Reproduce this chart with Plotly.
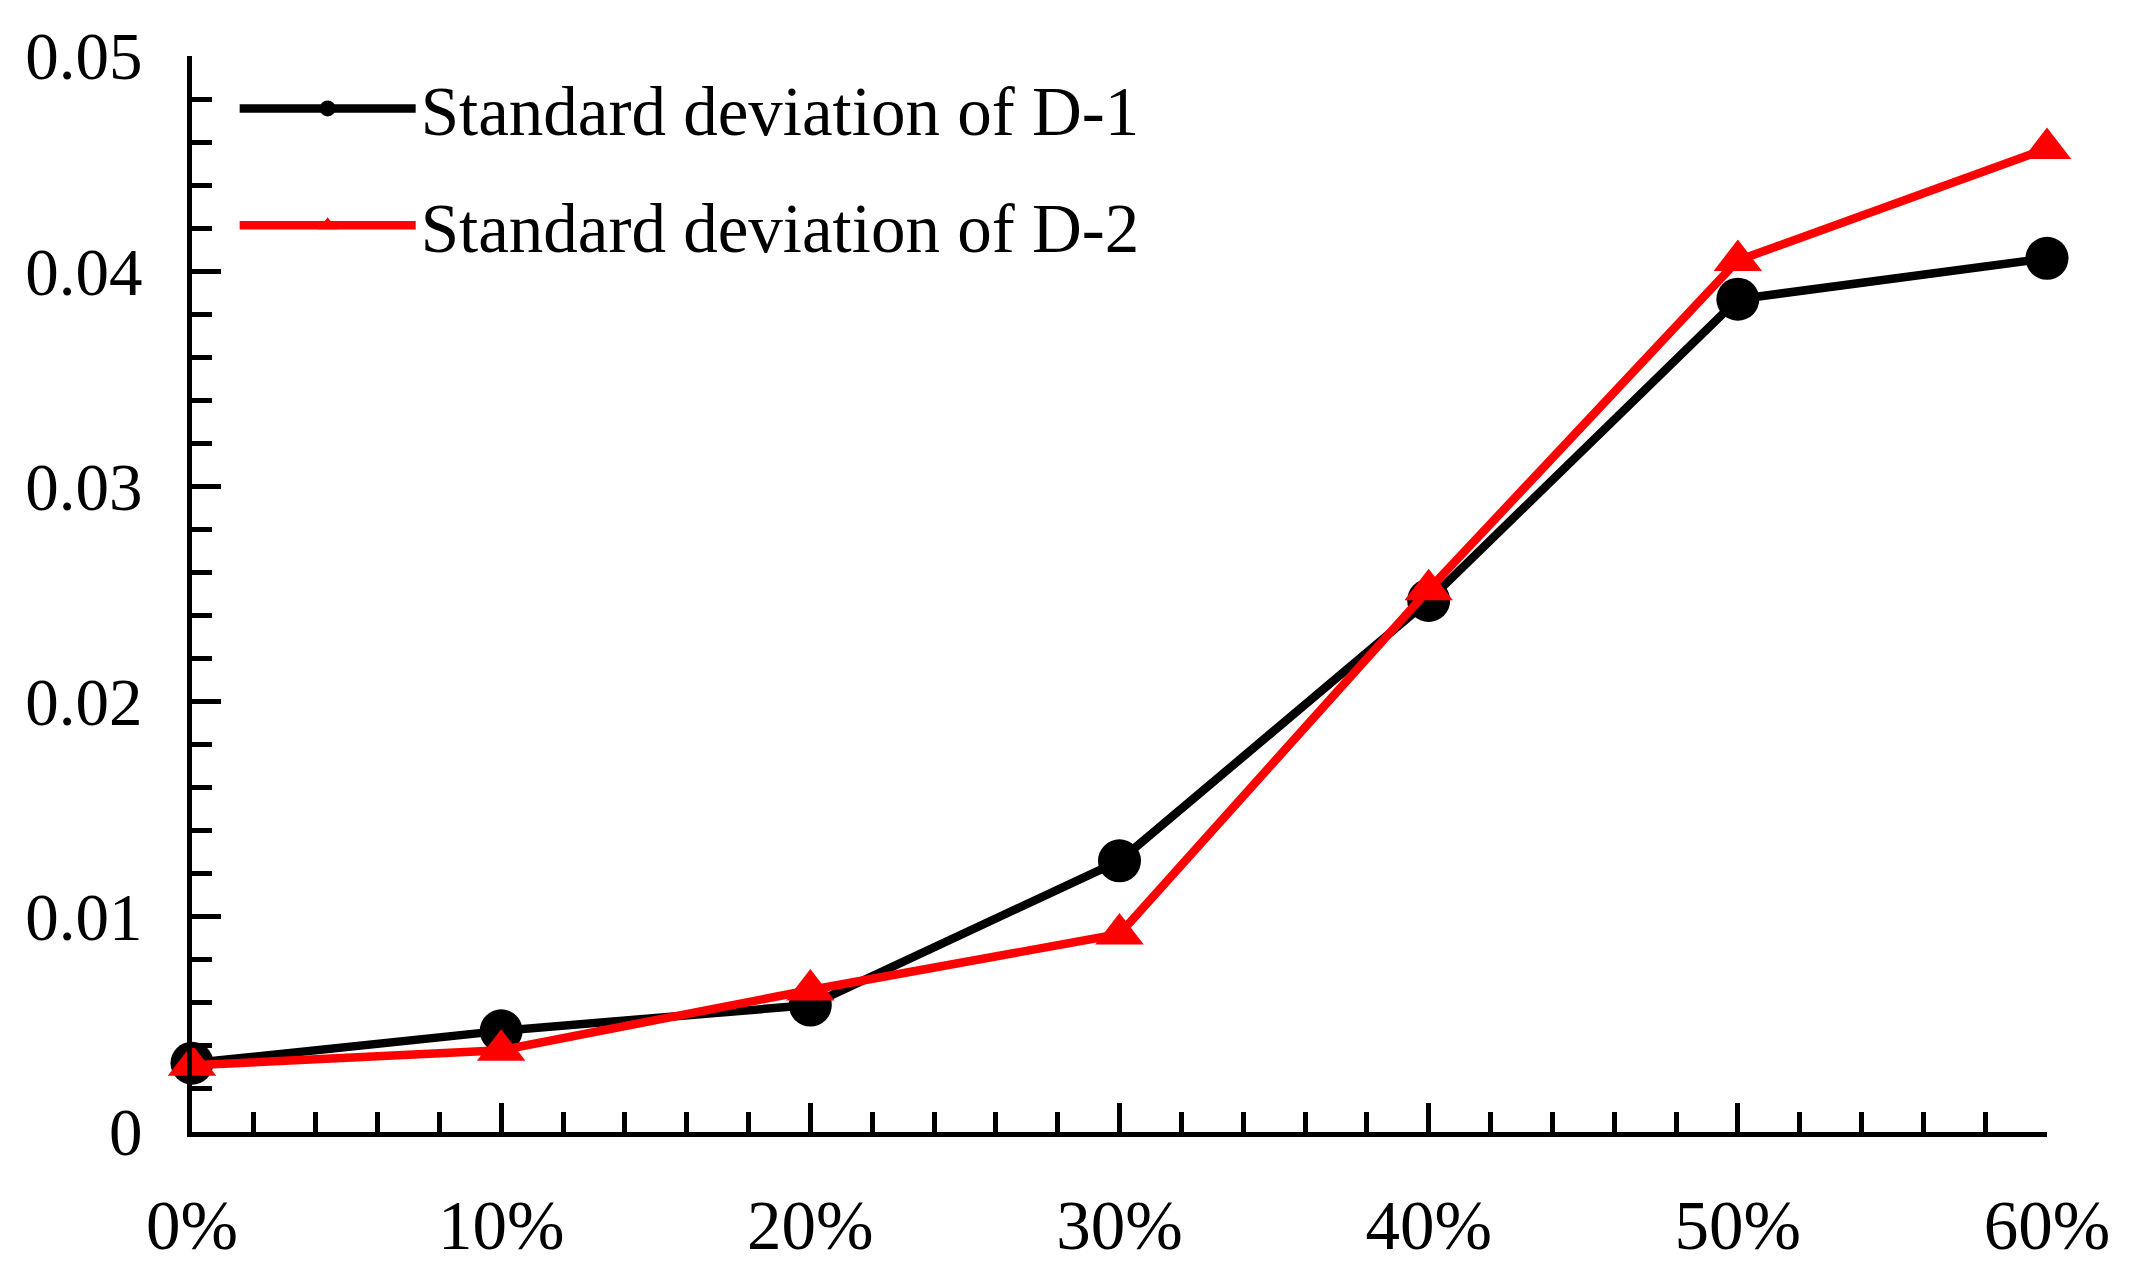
import plotly.graph_objects as go

# Data
x_pct = [0, 10, 20, 30, 40, 50, 60]
x_labels = ["0%", "10%", "20%", "30%", "40%", "50%", "60%"]
std_d1 = [0.0032, 0.0047, 0.0059, 0.0126, 0.0247, 0.0387, 0.0406]
std_d2 = [0.0031, 0.0038, 0.0066, 0.0092, 0.0252, 0.0405, 0.0457]
y_ticks = [0, 0.01, 0.02, 0.03, 0.04, 0.05]
y_labels = ["0", "0.01", "0.02", "0.03", "0.04", "0.05"]

FONT = "Liberation Serif, Times New Roman, serif"

fig = go.Figure()
fig.add_trace(go.Scatter(
    x=x_pct, y=std_d1, mode="lines+markers",
    name="Standard deviation of D-1", legendgroup="d1",
    line=dict(color="black", width=8.5),
    marker=dict(symbol="circle", size=43, color="black"),
    cliponaxis=False,
))
fig.add_trace(go.Scatter(
    x=x_pct, y=std_d2, mode="lines+markers",
    name="Standard deviation of D-2", legendgroup="d2",
    line=dict(color="#ff0000", width=8.5),
    marker=dict(symbol="triangle-up", size=42, color="#ff0000"),
    cliponaxis=False,
))

fig.update_layout(
    width=2129, height=1277,
    margin=dict(l=192, r=82, t=56, b=145),
    paper_bgcolor="white", plot_bgcolor="white",
    font=dict(family=FONT, size=68, color="black"),
    showlegend=True,
    legend=dict(
        x=0.023, y=0.999, xanchor="left", yanchor="top",
        bgcolor="rgba(0,0,0,0)", borderwidth=0,
        itemwidth=176, tracegroupgap=24,
        font=dict(family=FONT, size=69, color="black"),
    ),
)
fig.update_xaxes(
    range=[0, 60], tickvals=x_pct, ticktext=x_labels,
    showline=True, linewidth=5, linecolor="black",
    showgrid=False, zeroline=False,
    ticks="inside", ticklen=29, tickwidth=5, tickcolor="black",
    minor=dict(ticks="inside", ticklen=20, tickwidth=5, tickcolor="black", dtick=2, showgrid=False),
    ticklabelstandoff=29,
    tickfont=dict(family=FONT, size=69, color="black"),
)
fig.update_yaxes(
    range=[0, 0.05], tickvals=y_ticks, ticktext=y_labels,
    showline=True, linewidth=5, linecolor="black",
    showgrid=False, zeroline=False,
    ticks="inside", ticklen=29, tickwidth=5, tickcolor="black",
    minor=dict(ticks="inside", ticklen=20, tickwidth=5, tickcolor="black", dtick=0.002, showgrid=False),
    ticklabelstandoff=31,
    tickfont=dict(family=FONT, size=67, color="black"),
)

fig.write_html("out.html", config={"displayModeBar": False},
               post_script="document.body.style.margin='0';")
